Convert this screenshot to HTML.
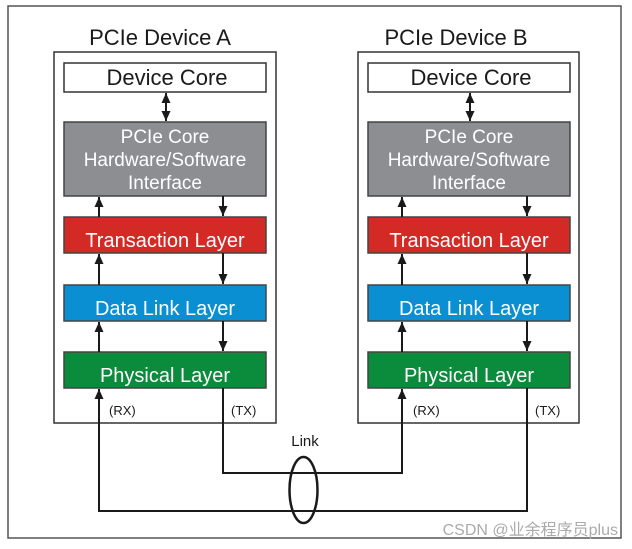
<!DOCTYPE html>
<html><head><meta charset="utf-8"><style>
html,body{margin:0;padding:0;background:#fff;}
svg{display:block;}
text{font-family:"Liberation Sans","Noto Sans CJK SC",sans-serif;}
</style></head><body>
<svg width="632" height="549" viewBox="0 0 632 549" xmlns="http://www.w3.org/2000/svg">
<defs>
<marker id="ah" markerWidth="10" markerHeight="10" refX="10" refY="5" orient="auto-start-reverse" markerUnits="userSpaceOnUse">
<path d="M0,0.5 L10,5 L0,9.5 z" fill="#1a1a1a"/>
</marker>
</defs>
<rect x="8" y="6" width="613" height="532" fill="#fff" stroke="#555" stroke-width="1.5"/>
<g id="devA">
<text x="160" y="45" font-size="22" text-anchor="middle" fill="#1a1a1a">PCIe Device A</text>
<rect x="54" y="52" width="222" height="371" fill="#fff" stroke="#333" stroke-width="1.5"/>
<rect x="64" y="63" width="202" height="29" fill="#fff" stroke="#333" stroke-width="1.5"/>
<text x="167" y="85" font-size="22" text-anchor="middle" fill="#1a1a1a">Device Core</text>
<rect x="64" y="122" width="202" height="74" fill="#8d8e92" stroke="#444" stroke-width="1.5"/>
<text x="165" y="143" font-size="19" text-anchor="middle" fill="#fff">PCIe Core</text>
<text x="165" y="166" font-size="19" text-anchor="middle" fill="#fff">Hardware/Software</text>
<text x="165" y="189" font-size="19" text-anchor="middle" fill="#fff">Interface</text>
<rect x="64" y="217" width="202" height="36" fill="#d42a26" stroke="#444" stroke-width="1.5"/>
<text x="165" y="247" font-size="20" text-anchor="middle" fill="#fff">Transaction Layer</text>
<rect x="64" y="285" width="202" height="36" fill="#0a8fd2" stroke="#444" stroke-width="1.5"/>
<text x="165" y="315" font-size="20" text-anchor="middle" fill="#fff">Data Link Layer</text>
<rect x="64" y="352" width="202" height="36" fill="#0b8b3c" stroke="#444" stroke-width="1.5"/>
<text x="165" y="382" font-size="20" text-anchor="middle" fill="#fff">Physical Layer</text>
<line x1="166" y1="93" x2="166" y2="121" stroke="#1a1a1a" stroke-width="2" marker-start="url(#ah)" marker-end="url(#ah)"/>
<line x1="99" y1="217" x2="99" y2="197" stroke="#1a1a1a" stroke-width="2" marker-end="url(#ah)"/>
<line x1="223" y1="196" x2="223" y2="216" stroke="#1a1a1a" stroke-width="2" marker-end="url(#ah)"/>
<line x1="99" y1="285" x2="99" y2="254" stroke="#1a1a1a" stroke-width="2" marker-end="url(#ah)"/>
<line x1="223" y1="253" x2="223" y2="284" stroke="#1a1a1a" stroke-width="2" marker-end="url(#ah)"/>
<line x1="99" y1="352" x2="99" y2="322" stroke="#1a1a1a" stroke-width="2" marker-end="url(#ah)"/>
<line x1="223" y1="321" x2="223" y2="351" stroke="#1a1a1a" stroke-width="2" marker-end="url(#ah)"/>
<text x="109" y="415" font-size="13" fill="#1a1a1a">(RX)</text>
<text x="231" y="415" font-size="13" fill="#1a1a1a">(TX)</text>
</g>
<g id="devB">
<text x="456" y="45" font-size="22" text-anchor="middle" fill="#1a1a1a">PCIe Device B</text>
<rect x="358" y="52" width="221" height="371" fill="#fff" stroke="#333" stroke-width="1.5"/>
<rect x="368" y="63" width="202" height="29" fill="#fff" stroke="#333" stroke-width="1.5"/>
<text x="471" y="85" font-size="22" text-anchor="middle" fill="#1a1a1a">Device Core</text>
<rect x="368" y="122" width="202" height="74" fill="#8d8e92" stroke="#444" stroke-width="1.5"/>
<text x="469" y="143" font-size="19" text-anchor="middle" fill="#fff">PCIe Core</text>
<text x="469" y="166" font-size="19" text-anchor="middle" fill="#fff">Hardware/Software</text>
<text x="469" y="189" font-size="19" text-anchor="middle" fill="#fff">Interface</text>
<rect x="368" y="217" width="202" height="36" fill="#d42a26" stroke="#444" stroke-width="1.5"/>
<text x="469" y="247" font-size="20" text-anchor="middle" fill="#fff">Transaction Layer</text>
<rect x="368" y="285" width="202" height="36" fill="#0a8fd2" stroke="#444" stroke-width="1.5"/>
<text x="469" y="315" font-size="20" text-anchor="middle" fill="#fff">Data Link Layer</text>
<rect x="368" y="352" width="202" height="36" fill="#0b8b3c" stroke="#444" stroke-width="1.5"/>
<text x="469" y="382" font-size="20" text-anchor="middle" fill="#fff">Physical Layer</text>
<line x1="470" y1="93" x2="470" y2="121" stroke="#1a1a1a" stroke-width="2" marker-start="url(#ah)" marker-end="url(#ah)"/>
<line x1="402" y1="217" x2="402" y2="197" stroke="#1a1a1a" stroke-width="2" marker-end="url(#ah)"/>
<line x1="527" y1="196" x2="527" y2="216" stroke="#1a1a1a" stroke-width="2" marker-end="url(#ah)"/>
<line x1="402" y1="285" x2="402" y2="254" stroke="#1a1a1a" stroke-width="2" marker-end="url(#ah)"/>
<line x1="527" y1="253" x2="527" y2="284" stroke="#1a1a1a" stroke-width="2" marker-end="url(#ah)"/>
<line x1="402" y1="352" x2="402" y2="322" stroke="#1a1a1a" stroke-width="2" marker-end="url(#ah)"/>
<line x1="527" y1="321" x2="527" y2="351" stroke="#1a1a1a" stroke-width="2" marker-end="url(#ah)"/>
<text x="413" y="415" font-size="13" fill="#1a1a1a">(RX)</text>
<text x="535" y="415" font-size="13" fill="#1a1a1a">(TX)</text>
</g>
<polyline points="223,388 223,473 402,473 402,389" fill="none" stroke="#1a1a1a" stroke-width="2" marker-end="url(#ah)"/>
<polyline points="527,388 527,511 99,511 99,389" fill="none" stroke="#1a1a1a" stroke-width="2" marker-end="url(#ah)"/>
<ellipse cx="303.5" cy="490" rx="14" ry="33" fill="none" stroke="#1a1a1a" stroke-width="2.5"/>
<text x="305" y="446" font-size="15" text-anchor="middle" fill="#1a1a1a">Link</text>
<text x="618" y="535" font-size="16" text-anchor="end" fill="#aaa">CSDN @业余程序员plus</text>
</svg>
</body></html>
